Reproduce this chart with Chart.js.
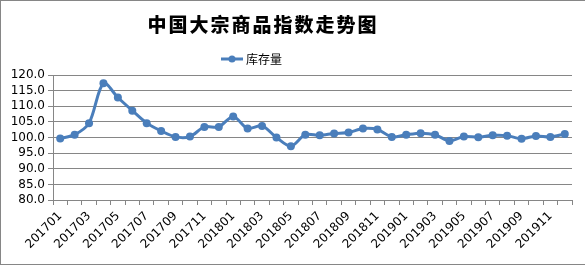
<!DOCTYPE html>
<html>
<head>
<meta charset="utf-8">
<script src="https://cdn.jsdelivr.net/npm/chart.js@4"></script>
<style>
  body { margin: 0; background: #fff; }
  #frame { position: absolute; left: 0; top: 0; width: 600px; height: 263px; border: 1px solid #868686; }
  #wrap { position: absolute; left: 0; top: 0; width: 585px; height: 268px; }
</style>
</head>
<body>
<div id="frame"></div>
<div id="wrap"><canvas id="myChart" width="585" height="268"></canvas></div>
<script>
  const titleText = "中国大宗商品指数走势图";
  const seriesName = "库存量";

  const months = [
    "201701", "201702", "201703", "201704", "201705", "201706", "201707", "201708", "201709", "201710", "201711", "201712",
    "201801", "201802", "201803", "201804", "201805", "201806", "201807", "201808", "201809", "201810", "201811", "201812",
    "201901", "201902", "201903", "201904", "201905", "201906", "201907", "201908", "201909", "201910", "201911", "201912"
  ];

  const stockIndex = [
    99.7, 100.9, 104.6, 117.4, 112.8, 108.6, 104.6, 102.1, 100.2, 100.3, 103.4, 103.4,
    106.7, 102.9, 103.7, 100.0, 97.2, 100.9, 100.7, 101.3, 101.6, 102.9, 102.6, 100.2,
    100.9, 101.4, 100.9, 98.9, 100.3, 100.1, 100.7, 100.6, 99.6, 100.5, 100.2, 101.1
  ];

  const yMin = 80;
  const yMax = 120;
  const yStep = 5;

  const lineColor = "#4a7ebb";
  const gridColor = "#868686";

  //title and legend sit left of centre like the original, so draw them ourselves
  const headerPlugin = {
    id: "header",
    afterDraw: (chart) => {
      const ctx = chart.ctx;
      ctx.save();
      ctx.fillStyle = "#000";
      ctx.textAlign = "center";
      ctx.textBaseline = "middle";
      ctx.font = "900 19px 'Noto Sans CJK SC'";
      ctx.letterSpacing = "2px";
      ctx.fillText(titleText, 263, 25);
      ctx.letterSpacing = "0px";

      ctx.strokeStyle = lineColor;
      ctx.lineWidth = 3;
      ctx.beginPath();
      ctx.moveTo(221, 59);
      ctx.lineTo(243, 59);
      ctx.stroke();
      ctx.fillStyle = lineColor;
      ctx.beginPath();
      ctx.arc(232, 59, 3.5, 0, Math.PI * 2);
      ctx.fill();

      ctx.fillStyle = "#000";
      ctx.textAlign = "left";
      ctx.font = "12px 'Noto Sans CJK SC'";
      ctx.fillText(seriesName, 246, 59);
      ctx.restore();
    }
  };

  const chart = new Chart(document.getElementById("myChart"), {
    type: "line",
    data: {
      labels: months,
      datasets: [{
        label: seriesName,
        data: stockIndex,
        borderColor: lineColor,
        backgroundColor: lineColor,
        borderWidth: 3,
        tension: 0.3,
        pointRadius: 4,
        pointBackgroundColor: lineColor,
        pointBorderColor: lineColor,
        pointBorderWidth: 0
      }]
    },
    options: {
      responsive: false,
      animation: false,
      layout: { padding: { top: 75, left: 0, right: 13, bottom: 0 } },
      plugins: {
        legend: { display: false },
        title: { display: false },
        tooltip: { enabled: false }
      },
      scales: {
        x: {
          type: "category",
          offset: true,
          afterCalculateLabelRotation: (scale) => { scale.labelRotation = 45; },
          afterFit: (scale) => { scale.height = 68; },
          border: { color: gridColor, width: 1 },
          grid: { drawOnChartArea: false, offset: true, tickLength: 5, color: gridColor },
          ticks: {
            autoSkip: false,
            maxRotation: 45,
            minRotation: 45,
            padding: 4,
            color: "#000",
            font: { family: "'DejaVu Sans'", size: 12 },
            callback: (value, i) => (i % 2 === 0 ? months[i] : "")
          }
        },
        y: {
          min: yMin,
          max: yMax,
          afterFit: (scale) => { scale.width = 53; },
          border: { color: gridColor, width: 1 },
          grid: { color: gridColor, tickLength: 5 },
          ticks: {
            stepSize: yStep,
            autoSkip: false,
            padding: 3,
            color: "#000",
            font: { family: "'DejaVu Sans'", size: 12 },
            callback: (value) => value.toFixed(1)
          }
        }
      }
    },
    plugins: [headerPlugin]
  });
</script>
</body>
</html>
